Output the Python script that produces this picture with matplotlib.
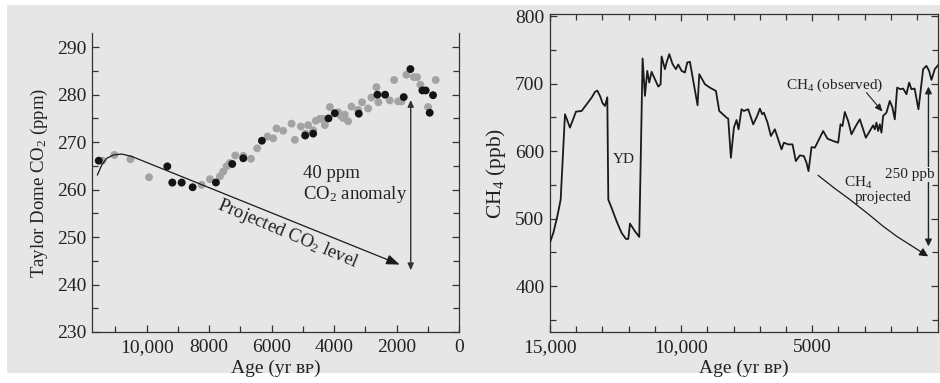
import matplotlib.pyplot as plt
from matplotlib.patches import Rectangle
from matplotlib.ticker import MultipleLocator

# fonts: Times-like serif everywhere, mathtext for sub-scripts
plt.rcParams['font.family'] = ['Liberation Serif', 'DejaVu Serif']
plt.rcParams['mathtext.fontset'] = 'custom'
plt.rcParams['mathtext.rm'] = 'Liberation Serif'
plt.rcParams['mathtext.it'] = 'Liberation Serif:italic'
plt.rcParams['mathtext.default'] = 'rm'

####################### DATA #####################################

# Taylor Dome CO2, two sets of samples (yr BP, ppm)
co2_black_age = [11535, 9339, 9179, 8880, 8529, 7783, 7260, 6908, 6311, 4925, 4670,
                 4179, 3977, 3209, 2612, 2367, 1770, 1556, 1173, 1066, 938, 832]
co2_black_ppm = [266.1, 264.9, 261.5, 261.5, 260.5, 261.5, 265.4, 266.6, 270.3, 271.4, 271.8,
                 275.0, 276.1, 276.0, 280.0, 280.0, 279.5, 285.4, 280.9, 280.9, 276.2, 279.9]

co2_gray_age = [11418, 11034, 10522, 9925, 9179, 8880, 8241, 7974, 7655, 7548, 7441, 7335,
                7164, 6908, 6663, 6461, 6130, 5949, 5842, 5629, 5362, 5256, 5064, 4915,
                4829, 4670, 4584, 4456, 4350, 4296, 4136, 3870, 3795, 3710, 3657, 3550,
                3443, 3230, 3102, 2910, 2804, 2644, 2580, 2217, 2079, 1951, 1844, 1684,
                1450, 1343, 1237, 991, 746]
co2_gray_ppm = [266.1, 267.3, 266.4, 262.6, 261.4, 261.4, 261.0, 262.2, 262.8, 263.8, 264.9, 265.6,
                267.2, 267.1, 266.5, 268.7, 271.2, 270.8, 272.9, 272.4, 273.9, 270.5, 273.3, 271.8,
                273.6, 272.5, 274.5, 274.9, 274.9, 273.6, 277.4, 276.3, 275.6, 275.1, 275.8, 274.4,
                277.5, 276.8, 278.4, 277.1, 279.4, 281.6, 278.4, 278.8, 283.1, 278.6, 278.6, 284.2,
                283.7, 283.7, 282.1, 277.4, 283.1]

# projected CO2 trend: early hump then straight arrow
proj_co2_age = [11578, 11439, 11279, 11066, 10800, 10480]
proj_co2_ppm = [263.1, 265.2, 266.6, 267.3, 267.5, 267.0]
proj_co2_end = (1898, 244.2)
co2_anom_age = 1546
co2_anom_range = (278.9, 243.0)

# CH4 record (yr BP, ppb)
ch4_age = [15000, 14873, 14720, 14593, 14428, 14238, 14009, 13793, 13602, 13412, 13285, 13196,
           13094, 12992, 12903, 12814, 12776, 12650, 12459, 12268, 12103, 12014, 11950, 11760,
           11595, 11468, 11379, 11290, 11214, 11125, 10998, 10870, 10781, 10743, 10616, 10553,
           10451, 10324, 10197, 10108, 9981, 9854, 9765, 9663, 9536, 9371, 9307, 9091, 8901,
           8672, 8545, 8266, 8202, 8100, 7986, 7884, 7808, 7694, 7605, 7440, 7249, 7096, 6995,
           6906, 6842, 6702, 6575, 6423, 6296, 6169, 6080, 5915, 5750, 5623, 5470, 5318, 5216,
           5140, 5025, 4898, 4771, 4581, 4416, 4200, 4009, 3920, 3844, 3755, 3628, 3501, 3336,
           3183, 3056, 2954, 2802, 2675, 2611, 2548, 2484, 2421, 2357, 2294, 2167, 2040, 1938,
           1849, 1760, 1633, 1531, 1404, 1302, 1214, 1093, 947, 871, 769, 642, 540, 451, 324, 197]
ch4_ppb = [464.9, 478.7, 503.5, 528.0, 654.5, 634.7, 658.4, 659.4, 669.3, 679.2, 687.6, 689.6,
           681.7, 670.8, 666.8, 679.7, 528.0, 515.8, 496.0, 478.7, 469.8, 469.8, 492.6, 481.2,
           472.8, 737.1, 681.7, 718.8, 701.5, 717.3, 706.4, 695.5, 699.0, 740.1, 721.3, 731.2,
           743.6, 728.7, 721.3, 728.2, 718.8, 716.3, 731.2, 732.2, 704.0, 667.8, 713.9, 699.0, 694.0,
           689.1, 659.4, 649.5, 648.0, 590.1, 634.7, 646.0, 632.2, 661.9, 659.4, 661.9, 639.6, 652.0, 662.9,
           654.5, 656.9, 642.1, 622.3, 632.2, 617.3, 602.5, 612.4, 609.9, 609.9, 585.1, 593.6, 592.6, 582.7,
           570.3, 605.9, 605.0, 614.9, 629.7, 618.3, 614.9, 612.4, 639.6, 637.1, 657.9, 644.6, 624.8, 637.1,
           647.0, 632.2, 619.8, 629.7, 638.1, 632.2, 642.1, 629.7, 639.6, 627.2, 652.0, 656.9, 674.3, 664.4,
           647.0, 694.0, 691.6, 692.6, 684.2, 701.5, 691.6, 692.6, 661.9, 686.6, 721.3, 726.2, 718.8, 705.4, 721.3, 727.2]

# projected CH4 trend
proj_ch4_age = [4771, 4150, 3564, 2900, 2294, 1750, 1277, 578]
proj_ch4_ppb = [563.9, 545.0, 528.2, 508.0, 488.6, 473.0, 461.4, 444.0]
ch4_anom_age = 565
ch4_anom_range = (695.5, 458.9)

co2_xticks = [10000, 8000, 6000, 4000, 2000, 0]
co2_xlabels = ['10,000', '8000', '6000', '4000', '2000', '0']
ch4_xticks = [15000, 10000, 5000]
ch4_xlabels = ['15,000', '10,000', '5000']

####################### FIGURE #####################################

BG = '#e6e6e6'
INK = '#222222'
fig = plt.figure(figsize=(9.4, 3.83), dpi=100, facecolor='white')
fig.patches.append(Rectangle((0.0074, 0.026), 0.9926, 0.961, transform=fig.transFigure,
                             facecolor=BG, edgecolor='none', zorder=-10))

ax1 = fig.add_axes([0.0979, 0.1332, 0.3904, 0.7806])
ax2 = fig.add_axes([0.5851, 0.1332, 0.4128, 0.8302])
for ax in (ax1, ax2):
    ax.set_facecolor('none')
    for sp in ax.spines.values():
        sp.set_color('#333333')
        sp.set_linewidth(0.9)
    ax.tick_params(which='both', direction='in', colors='#333333', labelcolor=INK,
                   labelsize=14, width=0.9)
    ax.tick_params(which='major', length=5)
    ax.tick_params(which='minor', length=4)

# ---------------- left panel: CO2 ----------------
ax1.scatter(co2_gray_age, co2_gray_ppm, s=32, color='#a3a3a3', edgecolors='none', zorder=2)
ax1.scatter(co2_black_age, co2_black_ppm, s=32, color='#141414', edgecolors='none', zorder=3)
ax1.plot(proj_co2_age, proj_co2_ppm, color='#1a1a1a', lw=0.9, zorder=4)
ax1.annotate('', xy=proj_co2_end, xytext=(proj_co2_age[-1], proj_co2_ppm[-1]),
             arrowprops=dict(arrowstyle='-|>,head_length=0.8,head_width=0.3', color='#1a1a1a',
                             lw=0.9, shrinkA=0, shrinkB=0), zorder=4)
ax1.annotate('', xy=(co2_anom_age, co2_anom_range[0]), xytext=(co2_anom_age, co2_anom_range[1]),
             arrowprops=dict(arrowstyle='<|-|>,head_length=0.4,head_width=0.18', color='#333333',
                             lw=1.0, shrinkA=0, shrinkB=0))
ax1.text(5000, 263.5, '40 ppm', fontsize=13.5, color=INK, va='center')
ax1.text(5000, 258.9, 'CO$_2$ anomaly', fontsize=13.5, color=INK, va='center')
ax1.text(5480, 250.7, 'Projected CO$_2$ level', fontsize=13.5, color=INK,
         rotation=-23, ha='center', va='center', rotation_mode='anchor')

ax1.set_xlim(11750, 0)
ax1.set_ylim(230, 293)
ax1.set_xticks(co2_xticks)
ax1.set_xticklabels(co2_xlabels)
ax1.xaxis.set_minor_locator(MultipleLocator(1000))
ax1.yaxis.set_major_locator(MultipleLocator(10))
ax1.yaxis.set_minor_locator(MultipleLocator(5))
ax1.tick_params(axis='y', which='both', right=True)
ax1.tick_params(axis='x', pad=5)
ax1.tick_params(axis='y', pad=4)
ax1.spines['top'].set_visible(False)
ax1.set_ylabel('Taylor Dome CO$_2$ (ppm)', fontsize=13.5, color=INK, labelpad=5)
ax1.set_xlabel('Age (yr ʙᴘ)', fontsize=14, color=INK, labelpad=3)

# ---------------- right panel: CH4 ----------------
ax2.plot(ch4_age, ch4_ppb, color='#1a1a1a', lw=1.3, zorder=3)
ax2.annotate('', xy=(proj_ch4_age[-1], proj_ch4_ppb[-1]),
             xytext=(proj_ch4_age[-2], proj_ch4_ppb[-2]),
             arrowprops=dict(arrowstyle='-|>,head_length=0.5,head_width=0.25', color='#1a1a1a',
                             lw=0.9, shrinkA=0, shrinkB=0))
ax2.plot(proj_ch4_age[:-1], proj_ch4_ppb[:-1], color='#1a1a1a', lw=0.9)
ax2.annotate('', xy=(ch4_anom_age, ch4_anom_range[0]), xytext=(ch4_anom_age, ch4_anom_range[1]),
             arrowprops=dict(arrowstyle='<|-|>,head_length=0.4,head_width=0.2', color=INK,
                             lw=1.0, shrinkA=0, shrinkB=0))
ax2.annotate('', xy=(2319, 658.4), xytext=(2929, 686.6),
             arrowprops=dict(arrowstyle='-|>,head_length=0.45,head_width=0.2', color=INK,
                             lw=0.8, shrinkA=0, shrinkB=0))
ax2.text(12179, 587.6, 'YD', fontsize=11, color=INK, ha='center', va='center')
ax2.text(4123, 697.5, 'CH$_4$ (observed)', fontsize=11, color=INK, ha='center', va='center')
# small white patch behind the end of the "250 ppb" label, as in the original scan
ax2.add_patch(Rectangle((330, 555), 330, 22, facecolor='white', edgecolor='none', zorder=4))
ax2.text(1277, 565.3, '250 ppb', fontsize=11, color=INK, ha='center', va='center', zorder=5,
         bbox=dict(facecolor=BG, edgecolor='none', pad=0.5))
ax2.text(3246, 553.0, 'CH$_4$', fontsize=11, color=INK, ha='center', va='center')
ax2.text(2306, 530.7, 'projected', fontsize=11, color=INK, ha='center', va='center')

ax2.set_xlim(15000, 200)
ax2.set_ylim(332, 803)
ax2.set_xticks(ch4_xticks)
ax2.set_xticklabels(ch4_xlabels)
ax2.xaxis.set_minor_locator(MultipleLocator(1000))
ax2.yaxis.set_major_locator(MultipleLocator(100))
ax2.yaxis.set_minor_locator(MultipleLocator(50))
ax2.tick_params(axis='x', which='both', top=True, pad=5)
ax2.tick_params(axis='y', which='both', right=True, pad=4)
ax2.set_ylabel('CH$_4$ (ppb)', fontsize=15.5, color=INK, labelpad=5)
ax2.set_xlabel('Age (yr ʙᴘ)', fontsize=14, color=INK, labelpad=3)

fig.savefig('out.png', dpi=100, facecolor='white')
